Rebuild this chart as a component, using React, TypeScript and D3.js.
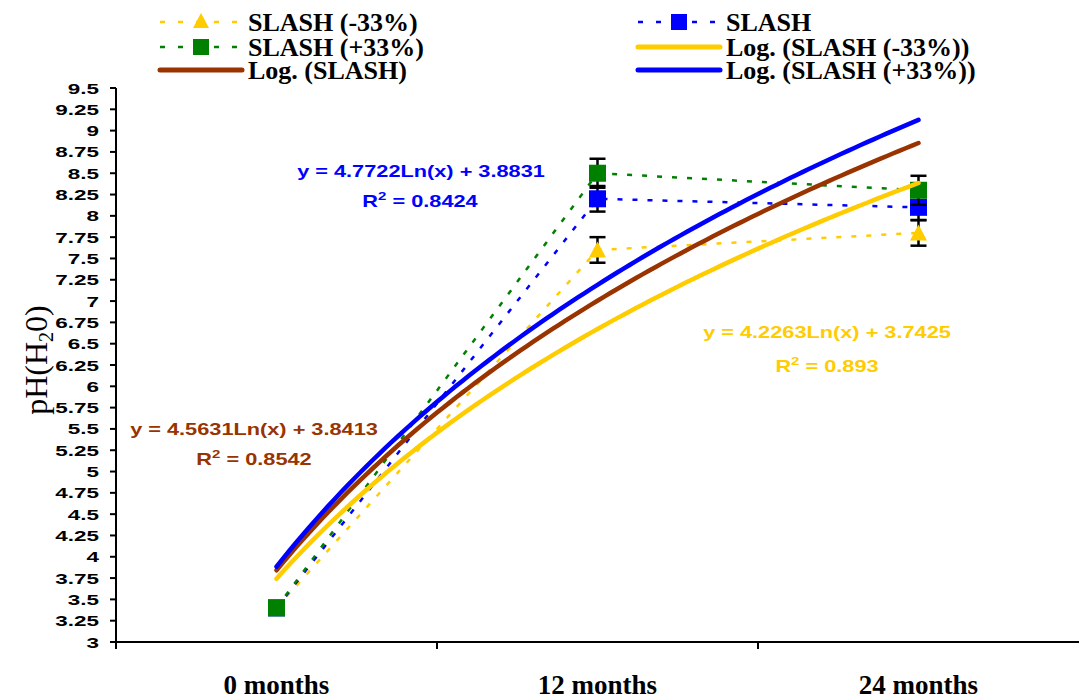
import React from "react";
import * as d3 from "d3";

const categories = ["0 months", "12 months", "24 months"];
const slashMinus = [3.4, 7.6, 7.8];
const slashMinusErr = [0.06, 0.15, 0.15];
const slashBase = [3.4, 8.2, 8.1];
const slashBaseErr = [0.06, 0.15, 0.15];
const slashPlus = [3.4, 8.5, 8.3];
const slashPlusErr = [0.06, 0.17, 0.17];
const yTicks = d3.range(3, 9.5001, 0.25);

// Logarithmic trendline coefficients  y = a*ln(x) + b
const trendMinus = { a: 4.2263, b: 3.7425, r2: "0.893" };
const trendBase = { a: 4.5631, b: 3.8413, r2: "0.8542" };
const trendPlus = { a: 4.7722, b: 3.8831, r2: "0.8424" };

const YELLOW = "#FFCC00";
const BLUE = "#0000FF";
const GREEN = "#008000";
const BROWN = "#993300";

const W = 1079;
const H = 699;
const X0 = 116;
const X1 = 1079;
const Y0 = 642;
const Y1 = 88;

export default function App() {
  const x = d3.scalePoint<string>().domain(categories).range([X0, X1]).padding(0.5);
  const idx = d3.scaleLinear().domain([1, 3]).range([x(categories[0])!, x(categories[2])!]);
  const y = d3.scaleLinear().domain([3, 9.5]).range([Y0, Y1]);
  const step = x.step();

  const dashLine = d3
    .line<number>()
    .x((_, i) => x(categories[i])!)
    .y((d) => y(d));

  const trendPath = (t: { a: number; b: number }) => {
    const pts = d3.range(1, 3.0001, 0.02);
    return d3
      .line<number>()
      .x((v) => idx(v))
      .y((v) => y(t.a * Math.log(v) + t.b))(pts)!;
  };

  const sq = 17;
  const tri = (cx: number, cy: number, s = 17) =>
    `M${cx},${cy - s / 2} L${cx + s / 2},${cy + s / 2 - 1} L${cx - s / 2},${cy + s / 2 - 1} Z`;

  const errBars = (vals: number[], errs: number[], key: string) =>
    vals.map((v, i) => {
      const cx = x(categories[i])!;
      const t = y(v + errs[i]);
      const b = y(v - errs[i]);
      return (
        <g key={key + i} stroke="#000" strokeWidth={2.5}>
          <line x1={cx} x2={cx} y1={t} y2={b} />
          <line x1={cx - 8} x2={cx + 8} y1={t} y2={t} />
          <line x1={cx - 8} x2={cx + 8} y1={b} y2={b} />
        </g>
      );
    });

  const arial = "Arial, 'Liberation Sans', Helvetica, sans-serif";
  const times = "'Times New Roman', 'Liberation Serif', serif";

  const legendItems = [
    { label: "SLASH (-33%)", color: YELLOW, kind: "tri", col: 0, row: 0 },
    { label: "SLASH", color: BLUE, kind: "sq", col: 1, row: 0 },
    { label: "SLASH (+33%)", color: GREEN, kind: "sq", col: 0, row: 1 },
    { label: "Log. (SLASH (-33%))", color: YELLOW, kind: "solid", col: 1, row: 1 },
    { label: "Log. (SLASH)", color: BROWN, kind: "solid", col: 0, row: 2 },
    { label: "Log. (SLASH (+33%))", color: BLUE, kind: "solid", col: 1, row: 2 },
  ];
  const legRowY = [22, 47, 70];
  const legColX = [160, 638];

  const eqText = (
    t: { a: number; b: number; r2: string },
    color: string,
    cx: number,
    y1: number,
    cx2: number,
    y2: number
  ) => (
    <g fill={color} fontFamily={arial} fontWeight="bold" fontSize={16}>
      <text transform={`translate(${cx},${y1}) scale(1.36,1)`} textAnchor="middle">
        {`y = ${t.a.toFixed(4)}Ln(x) + ${t.b.toFixed(4)}`}
      </text>
      <text transform={`translate(${cx2},${y2}) scale(1.36,1)`} textAnchor="middle">
        R<tspan dy={-7} fontSize={11}>2</tspan>
        <tspan dy={7}>{` = ${t.r2}`}</tspan>
      </text>
    </g>
  );

  return (
    <svg width={W} height={H} style={{ position: "absolute", left: 0, top: 0, background: "#fff" }}>
      <rect width={W} height={H} fill="#fff" />
      {/* Y axis */}
      <line x1={X0} x2={X0} y1={Y1} y2={Y0 + 6} stroke="#000" strokeWidth={2} />
      {yTicks.map((v) => (
        <g key={v}>
          <line x1={X0 - 6} x2={X0} y1={y(v)} y2={y(v)} stroke="#000" strokeWidth={2} />
          <text
            transform={`translate(${X0 - 17},${y(v) + 5.5}) scale(1.45,1)`}
            textAnchor="end"
            fontFamily={arial}
            fontWeight="bold"
            fontSize={15.5}
            fill="#000"
          >
            {String(v)}
          </text>
        </g>
      ))}
      {/* X axis */}
      <line x1={X0 - 6} x2={X1} y1={Y0} y2={Y0} stroke="#000" strokeWidth={2} />
      {[0, 1, 2].map((i) => (
        <line key={i} x1={X0 + i * step} x2={X0 + i * step} y1={Y0} y2={Y0 + 7} stroke="#000" strokeWidth={2} />
      ))}
      {categories.map((c) => (
        <text
          key={c}
          x={x(c)}
          y={694}
          textAnchor="middle"
          fontFamily={times}
          fontWeight="bold"
          fontSize={27}
        >
          {c}
        </text>
      ))}
      {/* Y label */}
      <text
        transform={`translate(47,360) rotate(-90)`}
        textAnchor="middle"
        fontFamily={times}
        fontSize={32}
      >
        pH(H<tspan dy={6} fontSize={20}>2</tspan>
        <tspan dy={-6}>0)</tspan>
      </text>

      {/* Series: SLASH (-33%) */}
      <path d={dashLine(slashMinus)!} fill="none" stroke={YELLOW} strokeWidth={2.5} strokeDasharray="5,10" />
      {errBars(slashMinus, slashMinusErr, "m")}
      {slashMinus.map((v, i) => (
        <path key={"tm" + i} d={tri(x(categories[i])!, y(v))} fill={YELLOW} />
      ))}
      {/* Series: SLASH */}
      <path d={dashLine(slashBase)!} fill="none" stroke={BLUE} strokeWidth={2.5} strokeDasharray="5,10" />
      {errBars(slashBase, slashBaseErr, "b")}
      {slashBase.map((v, i) => (
        <rect key={"sb" + i} x={x(categories[i])! - sq / 2} y={y(v) - sq / 2} width={sq} height={sq} fill={BLUE} />
      ))}
      {/* Series: SLASH (+33%) */}
      <path d={dashLine(slashPlus)!} fill="none" stroke={GREEN} strokeWidth={2.5} strokeDasharray="5,10" />
      {errBars(slashPlus, slashPlusErr, "p")}
      {slashPlus.map((v, i) => (
        <rect key={"sp" + i} x={x(categories[i])! - sq / 2} y={y(v) - sq / 2} width={sq} height={sq} fill={GREEN} />
      ))}

      {/* Trendlines */}
      <path d={trendPath(trendMinus)} fill="none" stroke={YELLOW} strokeWidth={4.5} strokeLinecap="round" />
      <path d={trendPath(trendBase)} fill="none" stroke={BROWN} strokeWidth={4.5} strokeLinecap="round" />
      <path d={trendPath(trendPlus)} fill="none" stroke={BLUE} strokeWidth={4.5} strokeLinecap="round" />

      {/* Equation labels */}
      {eqText(trendPlus, BLUE, 421, 177, 420, 207)}
      {eqText(trendMinus, YELLOW, 827, 338, 827, 372)}
      {eqText(trendBase, BROWN, 254, 435, 254, 465)}

      {/* Legend */}
      {legendItems.map((it, k) => {
        const lx = legColX[it.col];
        const ly = legRowY[it.row];
        const mx = lx + 41;
        return (
          <g key={k}>
            {it.kind === "solid" ? (
              <line x1={lx} x2={lx + 82} y1={ly} y2={ly} stroke={it.color} strokeWidth={5} strokeLinecap="round" />
            ) : (
              <line x1={lx} x2={lx + 82} y1={ly} y2={ly} stroke={it.color} strokeWidth={2.5} strokeDasharray="5,13" />
            )}
            {it.kind === "tri" && <path d={tri(mx, ly - 1, 16)} fill={it.color} />}
            {it.kind === "sq" && <rect x={mx - 8} y={ly - 8} width={16} height={16} fill={it.color} />}
            <text x={lx + 88} y={ly + 9} fontFamily={times} fontWeight="bold" fontSize={26}>
              {it.label}
            </text>
          </g>
        );
      })}
    </svg>
  );
}
